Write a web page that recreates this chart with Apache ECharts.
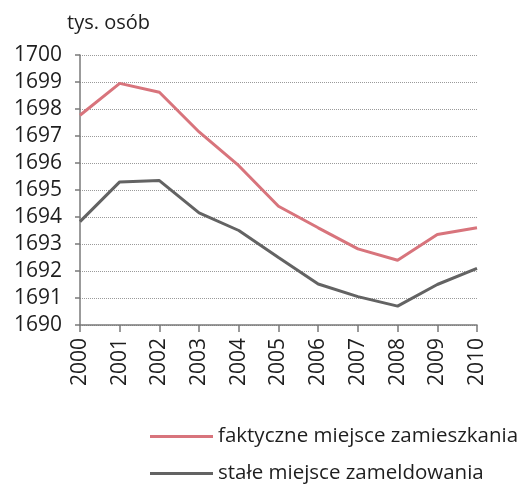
<!DOCTYPE html>
<html>
<head>
<meta charset="utf-8">
<script src="https://cdn.jsdelivr.net/npm/echarts@6/dist/echarts.min.js"></script>
<style>
  html, body { margin: 0; padding: 0; background: #fff; }
  #chart { width: 520px; height: 484px; }
</style>
</head>
<body>
<div id="chart"></div>
<script>
// dane
const years = ['2000', '2001', '2002', '2003', '2004', '2005', '2006', '2007', '2008', '2009', '2010']
const faktyczne = [1697.77, 1698.95, 1698.62, 1697.15, 1695.9, 1694.4, 1693.6, 1692.82, 1692.4, 1693.35, 1693.6]
const stale = [1693.83, 1695.3, 1695.35, 1694.15, 1693.5, 1692.5, 1691.52, 1691.05, 1690.7, 1691.5, 1692.1]
const seriesNames = ['faktyczne miejsce zamieszkania', 'stałe miejsce zameldowania']
const unitLabel = 'tys. osób'

const font = '"Open Sans", sans-serif'
const textColor = '#1e1e1e'
const fs = 21

// legenda - jedna pozycja na komponent
const legendItem = (name, top) => ({
  orient: 'vertical',
  left: 145,
  top: top,
  itemWidth: 63,
  itemHeight: 3,
  icon: 'rect',
  textStyle: { fontSize: 20.5, color: textColor, fontFamily: font, padding: [0, 0, 0, 0] },
  data: [name],
})

let mycharts = echarts.init(document.getElementById('chart'))
const option = {
  animation: false,
  textStyle: { fontFamily: font },
  grid: { left: 80, right: 43, top: 55, bottom: 159 },
  legend: [legendItem(seriesNames[0], 421), legendItem(seriesNames[1], 458)],
  xAxis: {
    type: 'category',
    data: years,
    boundaryGap: false,
    axisLine: { lineStyle: { color: '#7a7a7a', width: 1.5 } },
    axisTick: { show: true, length: 7, lineStyle: { color: '#7a7a7a', width: 1.5 } },
    axisLabel: { rotate: 90, fontSize: fs, color: textColor, margin: 13, fontFamily: font },
    splitLine: { show: false },
  },
  yAxis: {
    type: 'value',
    min: 1690,
    max: 1700,
    interval: 1,
    name: unitLabel,
    nameLocation: 'end',
    nameGap: 22,
    nameTextStyle: { fontSize: 20, color: textColor, align: 'left', padding: [0, 0, 0, -13], fontFamily: font },
    axisLine: { show: true, lineStyle: { color: '#7a7a7a', width: 1.5 } },
    axisTick: { show: true, length: 5, lineStyle: { color: '#7a7a7a', width: 1.5 } },
    axisLabel: { fontSize: fs, color: textColor, margin: 18, fontFamily: font, formatter: (v) => String(v) },
    splitLine: { show: true, lineStyle: { type: 'dotted', color: '#9a9a9a', width: 1 } },
  },
  series: [
    {
      name: seriesNames[0],
      type: 'line',
      symbol: 'none',
      data: faktyczne,
      itemStyle: { color: '#d8747c' },
      lineStyle: { color: '#d8747c', width: 3 },
    },
    {
      name: seriesNames[1],
      type: 'line',
      symbol: 'none',
      data: stale,
      itemStyle: { color: '#636363' },
      lineStyle: { color: '#636363', width: 3 },
    },
  ],
}
mycharts.setOption(option)
</script>
</body>
</html>
